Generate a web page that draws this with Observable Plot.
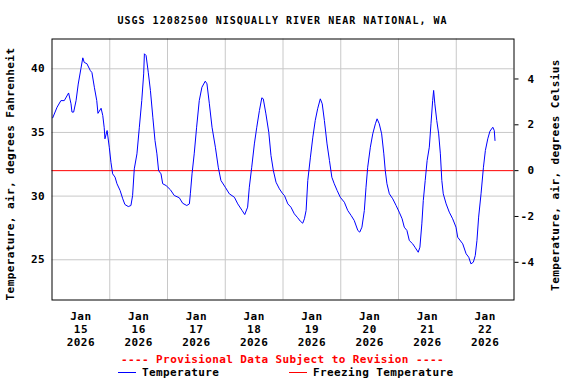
<!DOCTYPE html>
<html><head><meta charset="utf-8">
<script src="https://cdn.jsdelivr.net/npm/d3@7"></script>
<script src="https://cdn.jsdelivr.net/npm/@observablehq/plot@0.6"></script>
<style>body{margin:0;background:#fff}#chart{width:576px;height:384px}</style>
</head><body><div id="chart"></div>
<script>
const title = "USGS 12082500 NISQUALLY RIVER NEAR NATIONAL, WA";
const provisionalNote = "---- Provisional Data Subject to Revision ----";
const leftLabel = "Temperature, air, degrees Fahrenheit";
const rightLabel = "Temperature, air, degrees Celsius";
const seriesNames = ["Temperature", "Freezing Temperature"];
const seriesColors = ["#0000ff", "#ff0000"];

// hours since 2026-01-15 00:00
const hoursSinceStart = [
0.3,2.1,3.7,5.1,6.9,7.9,8.3,9.0,10.0,10.9,12.0,12.8,13.4,14.5,15.9,16.6,17.6,18.6,19.1,20.4,21.1,21.7,22.0,22.9,23.8,
24.5,25.2,26.2,27.0,28.3,29.4,30.3,31.7,32.8,33.5,34.2,35.3,36.3,37.3,38.1,38.4,39.1,40.0,40.9,41.9,42.8,43.6,44.3,45.3,46.0,47.4,
49.2,50.8,52.9,54.3,56.0,57.1,57.5,58.2,59.1,60.1,61.2,62.3,63.7,64.4,65.4,66.5,67.9,69.1,70.2,72.0,
73.7,75.8,77.2,79.0,80.1,81.3,82.0,83.0,84.1,85.1,86.2,87.2,87.8,88.9,90.1,91.0,92.0,93.1,94.5,95.9,
96.6,98.0,99.3,100.7,102.1,103.2,104.2,104.9,105.6,106.3,107.4,108.4,109.4,110.4,111.5,112.3,113.2,114.3,115.3,116.3,117.3,118.5,119.8,
121.5,122.9,124.3,125.6,127.1,127.9,128.8,129.8,130.5,131.2,132.3,133.3,134.4,135.1,136.0,137.0,137.9,138.5,139.2,140.2,141.6,
143.0,144.3,145.5,146.4,147.5,148.5,149.9,151.0,152.2,152.9,153.7,154.3,155.1,155.9,156.8,157.5,158.2,158.6,159.1,159.9,160.7,161.4,162.0,162.6,
163.8,165.1,166.5,167.9,168.6,170.7,172.1,173.2,174.1,175.1,175.9,176.6,177.3,178.3,179.3,180.1,181.1,182.0,183.2,183.8,184.1
];
const tempF = [
36.15,36.98,37.5,37.5,38.1,37.25,36.6,36.6,37.5,38.8,40.0,40.86,40.5,40.4,39.87,39.7,38.55,37.5,36.5,36.9,36.33,35.37,34.5,35.15,33.84,
32.66,31.75,31.49,30.97,30.44,29.79,29.34,29.18,29.26,30.05,32.14,33.32,35.41,37.5,39.6,41.18,41.04,39.73,38.3,36.2,34.37,33.32,32.0,31.75,30.97,30.83,
30.5,30.05,29.87,29.44,29.26,29.39,30.18,31.75,33.32,35.41,37.5,38.55,39.03,38.82,37.25,35.41,33.84,32.27,31.23,30.7,
30.18,29.91,29.39,28.87,28.55,29.13,30.7,32.27,34.1,35.41,36.72,37.72,37.64,36.46,35.0,33.19,32.0,31.09,30.57,30.18,
30.05,29.39,29.13,28.61,28.3,28.03,27.87,28.22,28.87,31.23,33.06,34.63,35.94,36.86,37.64,37.25,35.94,34.1,32.8,31.48,30.97,30.44,29.91,
29.52,28.87,28.48,28.09,27.3,27.17,27.56,28.87,30.7,32.27,33.84,34.89,35.68,36.07,35.68,34.89,33.32,32.0,30.97,30.18,29.79,
29.26,28.74,28.22,27.56,27.3,26.51,26.25,25.94,25.59,25.99,27.82,29.65,31.23,32.8,33.84,35.68,37.5,38.3,37.25,35.94,34.89,33.32,31.23,30.18,
29.39,28.74,28.22,27.56,26.77,26.25,25.47,25.2,24.68,24.81,25.33,26.51,28.35,30.18,32.27,33.58,34.5,35.1,35.41,35.15,34.37
];
const freezingF = 32;
const fahrenheitTicks = [25, 30, 35, 40];
const celsiusTicks = [-4, -2, 0, 2, 4];
const dayLabels = ["Jan\n15\n2026","Jan\n16\n2026","Jan\n17\n2026","Jan\n18\n2026","Jan\n19\n2026","Jan\n20\n2026","Jan\n21\n2026","Jan\n22\n2026"];
const yDomain = [21.84, 42.34];

const start = Date.UTC(2026, 0, 15);
const H = 3600e3;
const data = hoursSinceStart.map((h, i) => ({t: new Date(start + h * H), v: tempF[i]}));
const noonTicks = dayLabels.map((_, i) => new Date(start + (i * 24 + 12) * H));
const labelByTime = new Map(noonTicks.map((d, i) => [+d, dayLabels[i]]));
const midnights = d3.range(1, dayLabels.length).map(i => new Date(start + i * 24 * H));
const cToF = c => c * 9 / 5 + 32;

const plot = Plot.plot({
  width: 576, height: 384,
  marginLeft: 51.5, marginRight: 62.5, marginTop: 38.5, marginBottom: 84.5,
  style: {fontFamily: "'DejaVu Sans Mono', monospace", fontSize: "11px", fontWeight: "bold", letterSpacing: "0.4px", background: "#fff", color: "#000"},
  x: {type: "utc", domain: [new Date(start), new Date(start + 8 * 24 * H)]},
  y: {domain: yDomain},
  marks: [
    Plot.gridY(fahrenheitTicks, {stroke: "#c8c8c8", strokeOpacity: 1}),
    Plot.gridX(midnights, {stroke: "#c8c8c8", strokeOpacity: 1}),
    Plot.ruleY([freezingF], {stroke: seriesColors[1], strokeWidth: 1}),
    Plot.line(data, {x: "t", y: "v", stroke: seriesColors[0], strokeWidth: 1}),
    Plot.frame({stroke: "#000"}),
    Plot.axisY(fahrenheitTicks, {anchor: "left", tickSize: 0, tickPadding: 7, label: null}),
    Plot.axisY(celsiusTicks.map(cToF), {anchor: "right", tickSize: 4, tickPadding: 16.5, textAnchor: "end", label: null,
      tickFormat: d => String(celsiusTicks[celsiusTicks.map(cToF).indexOf(d)])}),
    Plot.axisX(noonTicks, {anchor: "bottom", tickSize: 0, tickPadding: 11, lineHeight: 1.168, label: null,
      tickFormat: d => labelByTime.get(+d)})
  ]
});
document.getElementById("chart").appendChild(plot);

const svg = d3.select(plot);
const g = svg.append("g").attr("fill", "#000");
g.append("text").attr("x", 282.5).attr("y", 23.5).attr("text-anchor", "middle")
  .style("font-size", "10px").style("letter-spacing", "1px").text(title);
g.append("text").attr("x", 282.5).attr("y", 362.8).attr("text-anchor", "middle").attr("fill", seriesColors[1]).text(provisionalNote);
g.append("text").attr("transform", "translate(14,174) rotate(-90)").attr("text-anchor", "middle").text(leftLabel);
g.append("text").attr("transform", "translate(558.7,175) rotate(-90)").attr("text-anchor", "middle").text(rightLabel);
const legendX = [[118, 136, 142], [289, 307, 313]];
seriesNames.forEach((name, i) => {
  const [x1, x2, tx] = legendX[i];
  g.append("line").attr("x1", x1).attr("x2", x2).attr("y1", 372.5).attr("y2", 372.5).attr("stroke", seriesColors[i]);
  g.append("text").attr("x", tx).attr("y", 376.3).attr("text-anchor", "start").text(name);
});
</script></body></html>
